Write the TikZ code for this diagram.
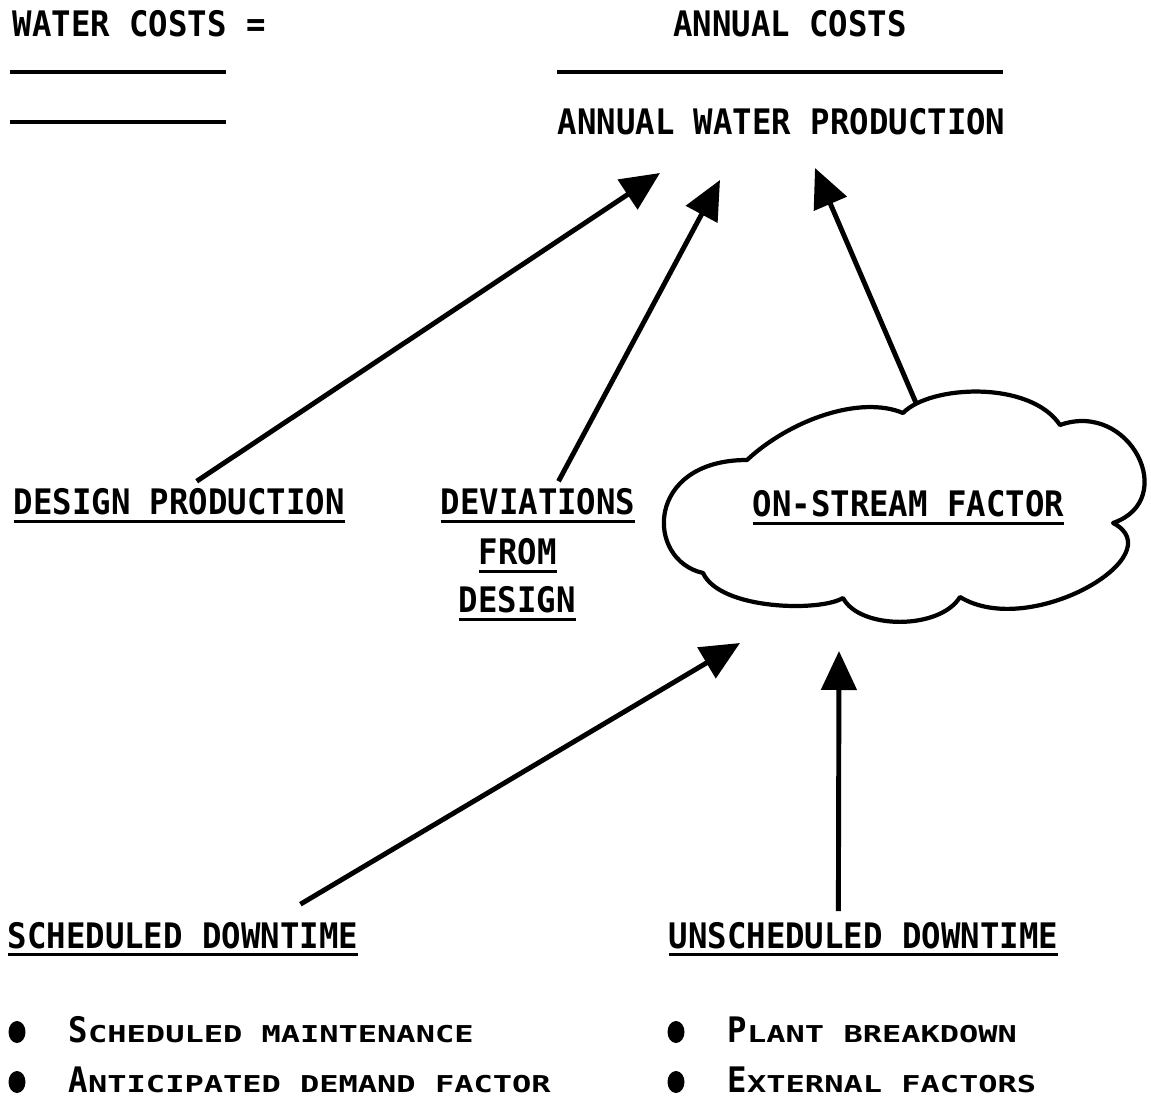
\documentclass[tikz,border=0pt]{standalone}
\usepackage{fontspec}
\setmainfont{DejaVu Sans Mono}[FakeStretch=0.92]
\newfontfamily\scf{DejaVu Sans Mono}[FakeStretch=1.38]
\usetikzlibrary{arrows.meta}
\newcommand{\ulx}[1]{\setbox0\hbox{#1}\rlap{\rule[-0.8mm]{\wd0}{0.3mm}}\box0}
\newcommand{\smc}[2]{{\fontsize{10}{12}\selectfont\bfseries #1}{\scf\fontsize{6.6}{8}\selectfont\bfseries #2}}
\tikzset{
	lbl/.style={anchor=base west,inner sep=0pt,font=\fontsize{10}{12}\selectfont\bfseries},
	arr/.style={line width=1.4pt,-{Triangle[length=3.9mm,width=3.5mm]}},
	bar/.style={line width=0.9pt},
	cloudline/.style={line width=1.2pt,line join=round}
}
\begin{document}
\begin{tikzpicture}[x=0.1mm,y=-0.1mm]
	\useasboundingbox (0,0) rectangle (1151,1097);
	\path (12,37) node[lbl](wc){WATER COSTS =} (790,37) node[lbl,anchor=base](ac){ANNUAL COSTS} (557,135) node[lbl](awp){ANNUAL WATER PRODUCTION};
	\draw[bar] (10,72)--(226,72) (10,122)--(226,122) (557,72)--(1003,72);
	\foreach \x/\y/\gt/\n in {13/515/DESIGN PRODUCTION/dp,440/515/DEVIATIONS/dv,478/565/FROM/fr,458/613/DESIGN/dg,752/517/ON-STREAM FACTOR/osf,7/948/SCHEDULED DOWNTIME/sd,668/948/UNSCHEDULED DOWNTIME/ud}\path (\x,\y) node[lbl](\n){\ulx{\gt}};
	\draw[cloudline] (747,460) .. controls (790,420) and (860,395) .. (903,413) coordinate(cl) .. controls (930,385) and (1030,380) .. (1060,425) .. controls (1130,400) and (1180,500) .. (1113,523) .. controls (1175,555) and (1030,640) .. (960,597) .. controls (940,630) and (860,630) .. (843,598) .. controls (820,612) and (720,610) .. (703,573) .. controls (645,560) and (645,460) .. (747,460) -- cycle;
	\foreach \x/\y/\n in {660/173/t1,720/180/t2,815/168/t3,740/643/t4,839/651/t5}\coordinate (\n) at (\x,\y);
	\draw[arr] ([shift={(17.5,-7)}]dp.north)--(t1);
	\draw[arr] ([shift={(20.5,-7)}]dv.north)--(t2);
	\draw[arr] ([shift={(13,-10)}]cl)--(t3);
	\draw[arr] ([shift={(117.5,-17)}]sd.north)--(t4);
	\draw[arr] ([shift={(-25,-10)}]ud.north)--(t5);
	\foreach \x/\y/\a/\b[count=\i] in {68/1042/S/CHEDULED MAINTENANCE,68/1092/A/NTICIPATED DEMAND FACTOR,727/1042/P/LANT BREAKDOWN,727/1092/E/XTERNAL FACTORS}{
		\path (\x,\y) node[lbl](b\i){\smc{\a}{\b}};
		\fill ([shift={(-51,-10)}]b\i.base west) ellipse [x radius=0.85mm,y radius=1.1mm];
	}
\end{tikzpicture}
\end{document}
